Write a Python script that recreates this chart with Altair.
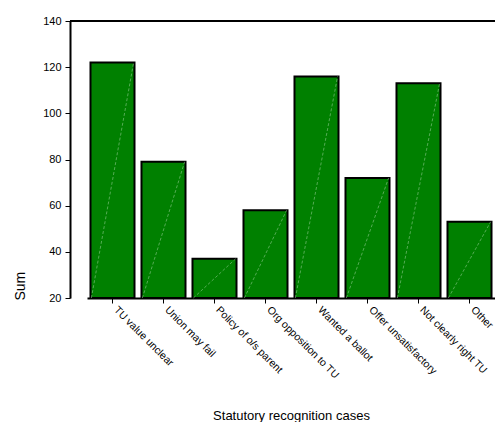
import altair as alt
import pandas as pd

categories = ["TU value unclear", "Union may fail", "Policy of o/s parent",
              "Org opposition to TU", "Wanted a ballot", "Offer unsatisfactory",
              "Not clearly right TU", "Other"]
sums = [122, 79, 37, 58, 116, 72, 113, 53]
y_ticks = [20, 40, 60, 80, 100, 120, 140]

df = pd.DataFrame({"cat": categories, "sum": sums, "base": [20] * len(sums)})

W, H = 425, 277
FONT = "Liberation Sans"

xscale = alt.Scale(domain=categories, range=[17, 425], paddingInner=0.137, paddingOuter=0.0685)
yscale = alt.Scale(domain=[20, 140], nice=False, zero=False)

bars = alt.Chart(df).mark_bar(fill="#008000", stroke="black", strokeWidth=2).encode(
    x=alt.X("cat:N", scale=xscale, sort=categories,
            axis=alt.Axis(title="Statutory recognition cases", labelAngle=45,
                          labelAlign="left", labelBaseline="middle", labelPadding=5,
                          labelOffset=3,
                          labelFont=FONT, labelFontSize=10.5, labelColor="black",
                          tickColor="black", tickSize=5, domainColor="black",
                          domainWidth=2, titleFont=FONT, titleFontSize=13,
                          titleFontWeight="normal", titleColor="black",
                          titleY=121, titleBaseline="alphabetic")),
    y=alt.Y("sum:Q", scale=yscale,
            axis=alt.Axis(title="Sum", values=y_ticks, grid=False, labelFont=FONT,
                          labelFontSize=11, labelColor="black", tickColor="black",
                          tickSize=5, labelPadding=4, domainColor="black", domainWidth=2,
                          titleFont=FONT, titleFontSize=14,
                          titleFontWeight="normal", titleColor="black",
                          titleX=-50, titleY=279, titleAlign="left",
                          titleBaseline="middle", titleAngle=270)),
    y2=alt.Y2("base:Q"),
)

diag = alt.Chart(df).mark_rule(color="#a8d8a8", strokeWidth=1, strokeDash=[3, 2],
                               opacity=0.5).encode(
    x=alt.X("cat:N", scale=xscale, sort=categories, bandPosition=0.02),
    x2=alt.X2("cat:N", bandPosition=0.98),
    y=alt.Y("base:Q", scale=yscale),
    y2=alt.Y2("sum:Q"),
)

top = alt.Chart(df).mark_rule(color="black", strokeWidth=2).encode(
    y=alt.datum(140, scale=yscale),
    x=alt.value(0), x2=alt.value(W),
)

chart = alt.layer(bars, diag, top).properties(
    width=W, height=H,
    padding={"left": 62, "top": 13, "right": 0, "bottom": 124},
    autosize=alt.AutoSizeParams(type="none"),
).configure_view(stroke=None)

chart.save("out.html", embed_options={"renderer": "svg", "actions": False})
